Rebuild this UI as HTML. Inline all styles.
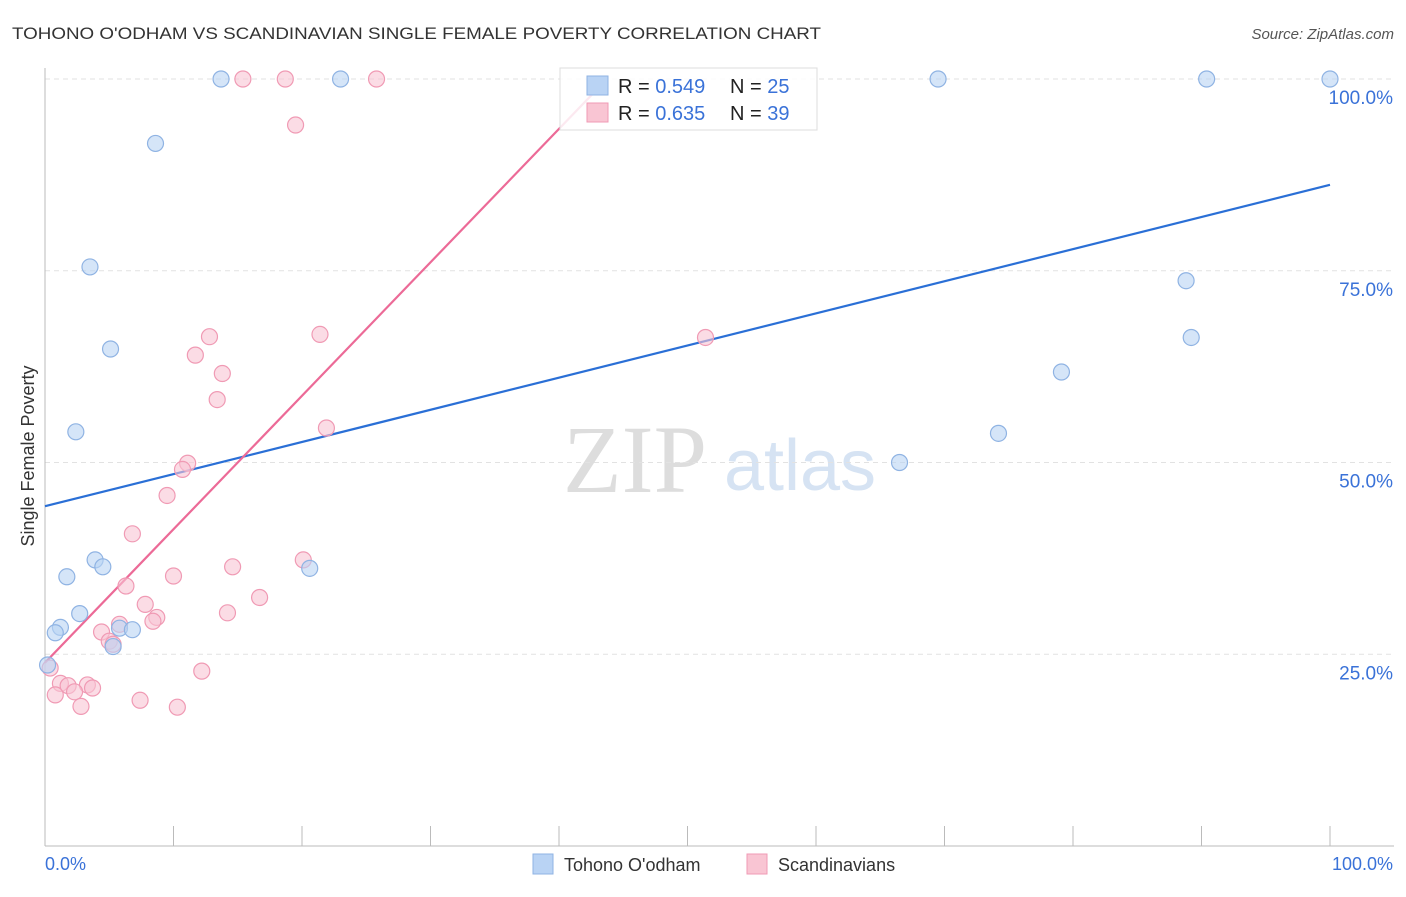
<!DOCTYPE html>
<html><head><meta charset="utf-8"><style>
body{margin:0;background:#fff;font-family:"Liberation Sans",sans-serif;}
svg text{font-family:"Liberation Sans",sans-serif;}
</style></head><body>
<svg id="c" width="1406" height="892" xmlns="http://www.w3.org/2000/svg">
<text x="12" y="39" font-size="17" fill="#333" textLength="809" lengthAdjust="spacingAndGlyphs">TOHONO O'ODHAM VS SCANDINAVIAN SINGLE FEMALE POVERTY CORRELATION CHART</text>
<text x="1394" y="39" font-size="15" fill="#555" font-style="italic" text-anchor="end">Source: ZipAtlas.com</text>
<text x="34" y="456" font-size="18" fill="#333" text-anchor="middle" transform="rotate(-90 34 456)">Single Female Poverty</text>
<text x="635" y="492" font-size="96" fill="#ddd" text-anchor="middle" style="font-family:'Liberation Serif',serif">ZIP</text>
<text x="800" y="490" font-size="72" fill="#d6e3f3" text-anchor="middle">atlas</text>
<g id="grid"></g><g id="lines"></g><g id="pts"></g>
<g>
<rect x="560" y="68" width="257" height="62" fill="#fff" fill-opacity="0.85" stroke="#ddd"/>
<rect x="587" y="76" width="21" height="19" fill="#b9d3f4" stroke="#8fb3e3"/>
<rect x="587" y="103" width="21" height="19" fill="#f9c5d3" stroke="#f09ab4"/>
<text x="618" y="93" font-size="20" fill="#222">R = <tspan fill="#3a72d8">0.549</tspan></text>
<text x="730" y="93" font-size="20" fill="#222">N = <tspan fill="#3a72d8">25</tspan></text>
<text x="618" y="120" font-size="20" fill="#222">R = <tspan fill="#3a72d8">0.635</tspan></text>
<text x="730" y="120" font-size="20" fill="#222">N = <tspan fill="#3a72d8">39</tspan></text>
</g>
<g>
<rect x="533" y="854" width="20" height="20" fill="#b9d3f4" stroke="#8fb3e3"/>
<text x="564" y="871" font-size="18" fill="#333">Tohono O'odham</text>
<rect x="747" y="854" width="20" height="20" fill="#f9c5d3" stroke="#f09ab4"/>
<text x="778" y="871" font-size="18" fill="#333">Scandinavians</text>
</g>
</svg>
<script>
const yTicks=[25,50,75,100];
const yTickLabels=["25.0%","50.0%","75.0%","100.0%"];
const xTickLabels=["0.0%","100.0%"];
const blueX=[13.7,23,69.5,90.4,100,8.6,3.5,5.1,2.4,88.8,89.2,79.1,74.2,66.5,3.9,1.7,4.5,20.6,2.7,1.2,0.8,5.8,6.8,5.3,0.2];
const blueY=[100,100,100,100,100,91.6,75.5,64.8,54,73.7,66.3,61.8,53.8,50,37.3,35.1,36.4,36.2,30.3,28.5,27.8,28.4,28.2,26,23.6];
const pinkX=[15.4,18.7,25.8,19.5,21.4,12.8,11.7,13.8,13.4,21.9,11.1,10.7,9.5,6.8,14.6,20.1,10,6.3,16.7,7.8,8.7,8.4,14.2,5.8,4.4,5,5.3,12.2,0.4,1.2,1.8,3.3,3.7,2.3,0.8,7.4,2.8,10.3,51.4];
const pinkY=[100,100,100,94,66.7,66.4,64,61.6,58.2,54.5,49.9,49.1,45.7,40.7,36.4,37.3,35.2,33.9,32.4,31.5,29.8,29.3,30.4,28.9,27.9,26.7,26.3,22.8,23.2,21.2,20.9,21,20.6,20.1,19.7,19,18.2,18.1,66.3];
const blueTrend=[44.3,86.2];
const pinkTrend=[23.9,1.74];
const X=v=>45+v*12.85, Y=v=>846-v*7.67;
const NS="http://www.w3.org/2000/svg";
function mk(p,t,a){const e=document.createElementNS(NS,t);for(const k in a)e.setAttribute(k,a[k]);p.appendChild(e);return e;}
const g=document.getElementById('grid'),L=document.getElementById('lines'),P=document.getElementById('pts');
yTicks.forEach((t,i)=>{const l=mk(g,'line',{x1:45,x2:1394,y1:Y(t),y2:Y(t),stroke:'#e2e2e2','stroke-dasharray':'5,4'});


const tx=mk(g,'text',{x:1393,y:Y(t)+25,'font-size':19,fill:'#3a72d8','text-anchor':'end'});tx.textContent=yTickLabels[i];

});
const ax=mk(g,'line',{x1:45,x2:1394,y1:846,y2:846,stroke:'#bbb'});


const ay=mk(g,'line',{x1:45,x2:45,y1:68,y2:846,stroke:'#bbb'});


for(let i=1;i<=10;i++){const t=mk(g,'line',{x1:X(i*10),x2:X(i*10),y1:826,y2:846,stroke:'#bbb'});

}
[[0,45,'start'],[1,1393,'end']].forEach(([i,x,a])=>{const t=mk(g,'text',{x:x,y:870,'font-size':18,fill:'#3a72d8','text-anchor':a});t.textContent=xTickLabels[i];

});
const bl=mk(L,'line',{x1:X(0),y1:Y(blueTrend[0]),x2:X(100),y2:Y(blueTrend[1]),stroke:'#2a6fd6','stroke-width':2.2});


const xe=43;
const pl=mk(L,'line',{x1:X(0),y1:Y(pinkTrend[0]),x2:X(xe),y2:Y(pinkTrend[0]+pinkTrend[1]*xe),stroke:'#ec6a97','stroke-width':2.2});


pinkX.forEach((x,i)=>{const c=mk(P,'circle',{cx:X(x),cy:Y(pinkY[i]),r:8,fill:'#f9c5d3','fill-opacity':0.6,stroke:'#f09ab4','stroke-width':1.2});

});
blueX.forEach((x,i)=>{const c=mk(P,'circle',{cx:X(x),cy:Y(blueY[i]),r:8,fill:'#b9d3f4','fill-opacity':0.6,stroke:'#8fb3e3','stroke-width':1.2});

});
</script>
</body></html>
